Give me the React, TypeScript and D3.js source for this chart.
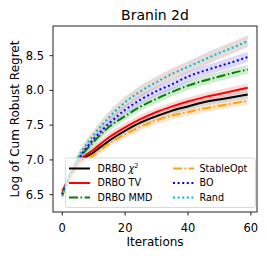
import React from "react";
import * as d3 from "d3";

const iters = [0, 2, 5, 10, 15, 20, 25, 30, 35, 40, 45, 50, 55, 59];

const randMean = [6.48, 6.75, 7.03, 7.36, 7.62, 7.83, 7.99, 8.12, 8.24, 8.34, 8.44, 8.54, 8.63, 8.71];
const boMean = [6.5, 6.74, 7.0, 7.3, 7.53, 7.72, 7.87, 7.99, 8.09, 8.2, 8.28, 8.35, 8.42, 8.48];
const mmdMean = [6.5, 6.73, 6.99, 7.26, 7.48, 7.63, 7.77, 7.88, 7.98, 8.07, 8.14, 8.2, 8.26, 8.3];
const tvMean = [6.55, 6.72, 6.96, 7.15, 7.33, 7.47, 7.59, 7.69, 7.77, 7.84, 7.9, 7.95, 8.0, 8.04];
const chiMean = [6.52, 6.7, 6.94, 7.11, 7.28, 7.42, 7.54, 7.63, 7.71, 7.77, 7.83, 7.87, 7.91, 7.94];
const stableMean = [6.5, 6.68, 6.92, 7.07, 7.24, 7.37, 7.48, 7.57, 7.64, 7.69, 7.74, 7.78, 7.82, 7.85];

const randSd = [0.05, 0.06, 0.07, 0.07, 0.08, 0.08, 0.08, 0.08, 0.08, 0.08, 0.085, 0.085, 0.085, 0.085];
const boSd = [0.05, 0.05, 0.06, 0.06, 0.07, 0.07, 0.07, 0.07, 0.075, 0.075, 0.075, 0.075, 0.075, 0.075];
const mmdSd = [0.05, 0.05, 0.05, 0.06, 0.06, 0.06, 0.06, 0.065, 0.065, 0.065, 0.065, 0.065, 0.065, 0.065];
const tvSd = [0.06, 0.06, 0.06, 0.06, 0.06, 0.06, 0.06, 0.06, 0.06, 0.06, 0.06, 0.06, 0.06, 0.06];
const chiSd = [0.05, 0.05, 0.05, 0.05, 0.05, 0.05, 0.05, 0.05, 0.05, 0.05, 0.05, 0.05, 0.05, 0.05];
const stableSd = [0.05, 0.05, 0.05, 0.05, 0.05, 0.055, 0.055, 0.055, 0.055, 0.055, 0.055, 0.055, 0.055, 0.055];

const xTicks = [0, 20, 40, 60];
const yTicks = [6.5, 7.0, 7.5, 8.0, 8.5];

const series = [
  { name: "chi", mean: chiMean, sd: chiSd, color: "#000000", band: "#a8a8a8", dash: "" },
  { name: "DRBO TV", mean: tvMean, sd: tvSd, color: "#ff0000", band: "#f5a0a0", dash: "" },
  { name: "DRBO MMD", mean: mmdMean, sd: mmdSd, color: "#008000", band: "#8fd08f", dash: "9,2.5,1.6,2.5" },
  { name: "StableOpt", mean: stableMean, sd: stableSd, color: "#ffa500", band: "#f8c090", dash: "9,2.5,1.6,2.5" },
  { name: "BO", mean: boMean, sd: boSd, color: "#0000ff", band: "#b0a6ea", dash: "2,2.6" },
  { name: "Rand", mean: randMean, sd: randSd, color: "#00bfbf", band: "#c4a6a6", dash: "2,2.6" },
];

const W = 267;
const H = 258;
const L = 53, R = 257, T = 26, B = 212;
const font = "DejaVu Sans, sans-serif";

export default function App() {
  const x = d3.scaleLinear().domain([-2.95, 61.95]).range([L, R]);
  const y = d3.scaleLinear().domain([6.251, 8.927]).range([B, T]);

  const line = d3
    .line<number>()
    .x((_, i) => x(iters[i]))
    .y((d) => y(d))
    .curve(d3.curveMonotoneX);

  const area = (m: number[], s: number[]) =>
    d3
      .area<number>()
      .x((_, i) => x(iters[i]))
      .y0((d, i) => y(d - s[i]))
      .y1((d, i) => y(d + s[i]))
      .curve(d3.curveMonotoneX)(m) || "";

  // legend layout
  const legX = 65.5, legY = 158, legW = 190, legH = 49.5;
  const col1 = [series[0], series[1], series[2]];
  const col2 = [series[3], series[4], series[5]];
  const rowY = [168.5, 183, 197.5];

  return (
    <svg width={W} height={H} style={{ position: "absolute", left: 0, top: 0 }} fontFamily={font}>
      <rect width={W} height={H} fill="#fff" />
      <defs>
        <clipPath id="plot">
          <rect x={L} y={T} width={R - L} height={B - T} />
        </clipPath>
      </defs>
      <g clipPath="url(#plot)">
        {series.map((s) => (
          <path key={s.name + "b"} d={area(s.mean, s.sd)} fill={s.band} opacity={0.42} />
        ))}
        {series.map((s) => (
          <path
            key={s.name}
            d={line(s.mean) || ""}
            fill="none"
            stroke={s.color}
            strokeWidth={2}
            strokeDasharray={s.dash}
          />
        ))}
      </g>

      {/* legend */}
      <rect x={legX} y={legY} width={legW} height={legH} rx={2.5} fill="#fff" fillOpacity={0.8} stroke="#d0d0d0" strokeWidth={0.8} />
      {col1.map((s, i) => (
        <g key={s.name}>
          <line x1={69} x2={90} y1={rowY[i]} y2={rowY[i]} stroke={s.color} strokeWidth={2} strokeDasharray={s.dash} />
          <text x={97.5} y={rowY[i] + 3.4} fontSize={9.6} fill="#000">
            {i === 0 ? (
              <>
                DRBO <tspan fontStyle="italic">χ</tspan>
                <tspan fontSize={6.5} dy={-4}>2</tspan>
              </>
            ) : (
              s.name
            )}
          </text>
        </g>
      ))}
      {col2.map((s, i) => (
        <g key={s.name}>
          <line x1={173} x2={194} y1={rowY[i]} y2={rowY[i]} stroke={s.color} strokeWidth={2} strokeDasharray={s.dash} />
          <text x={199.5} y={rowY[i] + 3.4} fontSize={9.6} fill="#000">
            {s.name}
          </text>
        </g>
      ))}

      {/* axes frame */}
      <rect x={L} y={T} width={R - L} height={B - T} fill="none" stroke="#222" strokeWidth={1} />

      {xTicks.map((t) => (
        <g key={t}>
          <line x1={x(t)} x2={x(t)} y1={B} y2={B + 3.5} stroke="#222" />
          <text x={x(t)} y={231.5} textAnchor="middle" fontSize={11.5}>
            {t}
          </text>
        </g>
      ))}
      {yTicks.map((t) => (
        <g key={t}>
          <line x1={L - 3.5} x2={L} y1={y(t)} y2={y(t)} stroke="#222" />
          <text x={44} y={y(t) + 4} textAnchor="end" fontSize={11.5}>
            {t.toFixed(1)}
          </text>
        </g>
      ))}

      <text x={155} y={19.5} textAnchor="middle" fontSize={14}>
        Branin 2d
      </text>
      <text x={155} y={246} textAnchor="middle" fontSize={12}>
        Iterations
      </text>
      <text transform={`translate(18.5, ${(T + B) / 2}) rotate(-90)`} textAnchor="middle" fontSize={12}>
        Log of Cum Robust Regret
      </text>
    </svg>
  );
}
